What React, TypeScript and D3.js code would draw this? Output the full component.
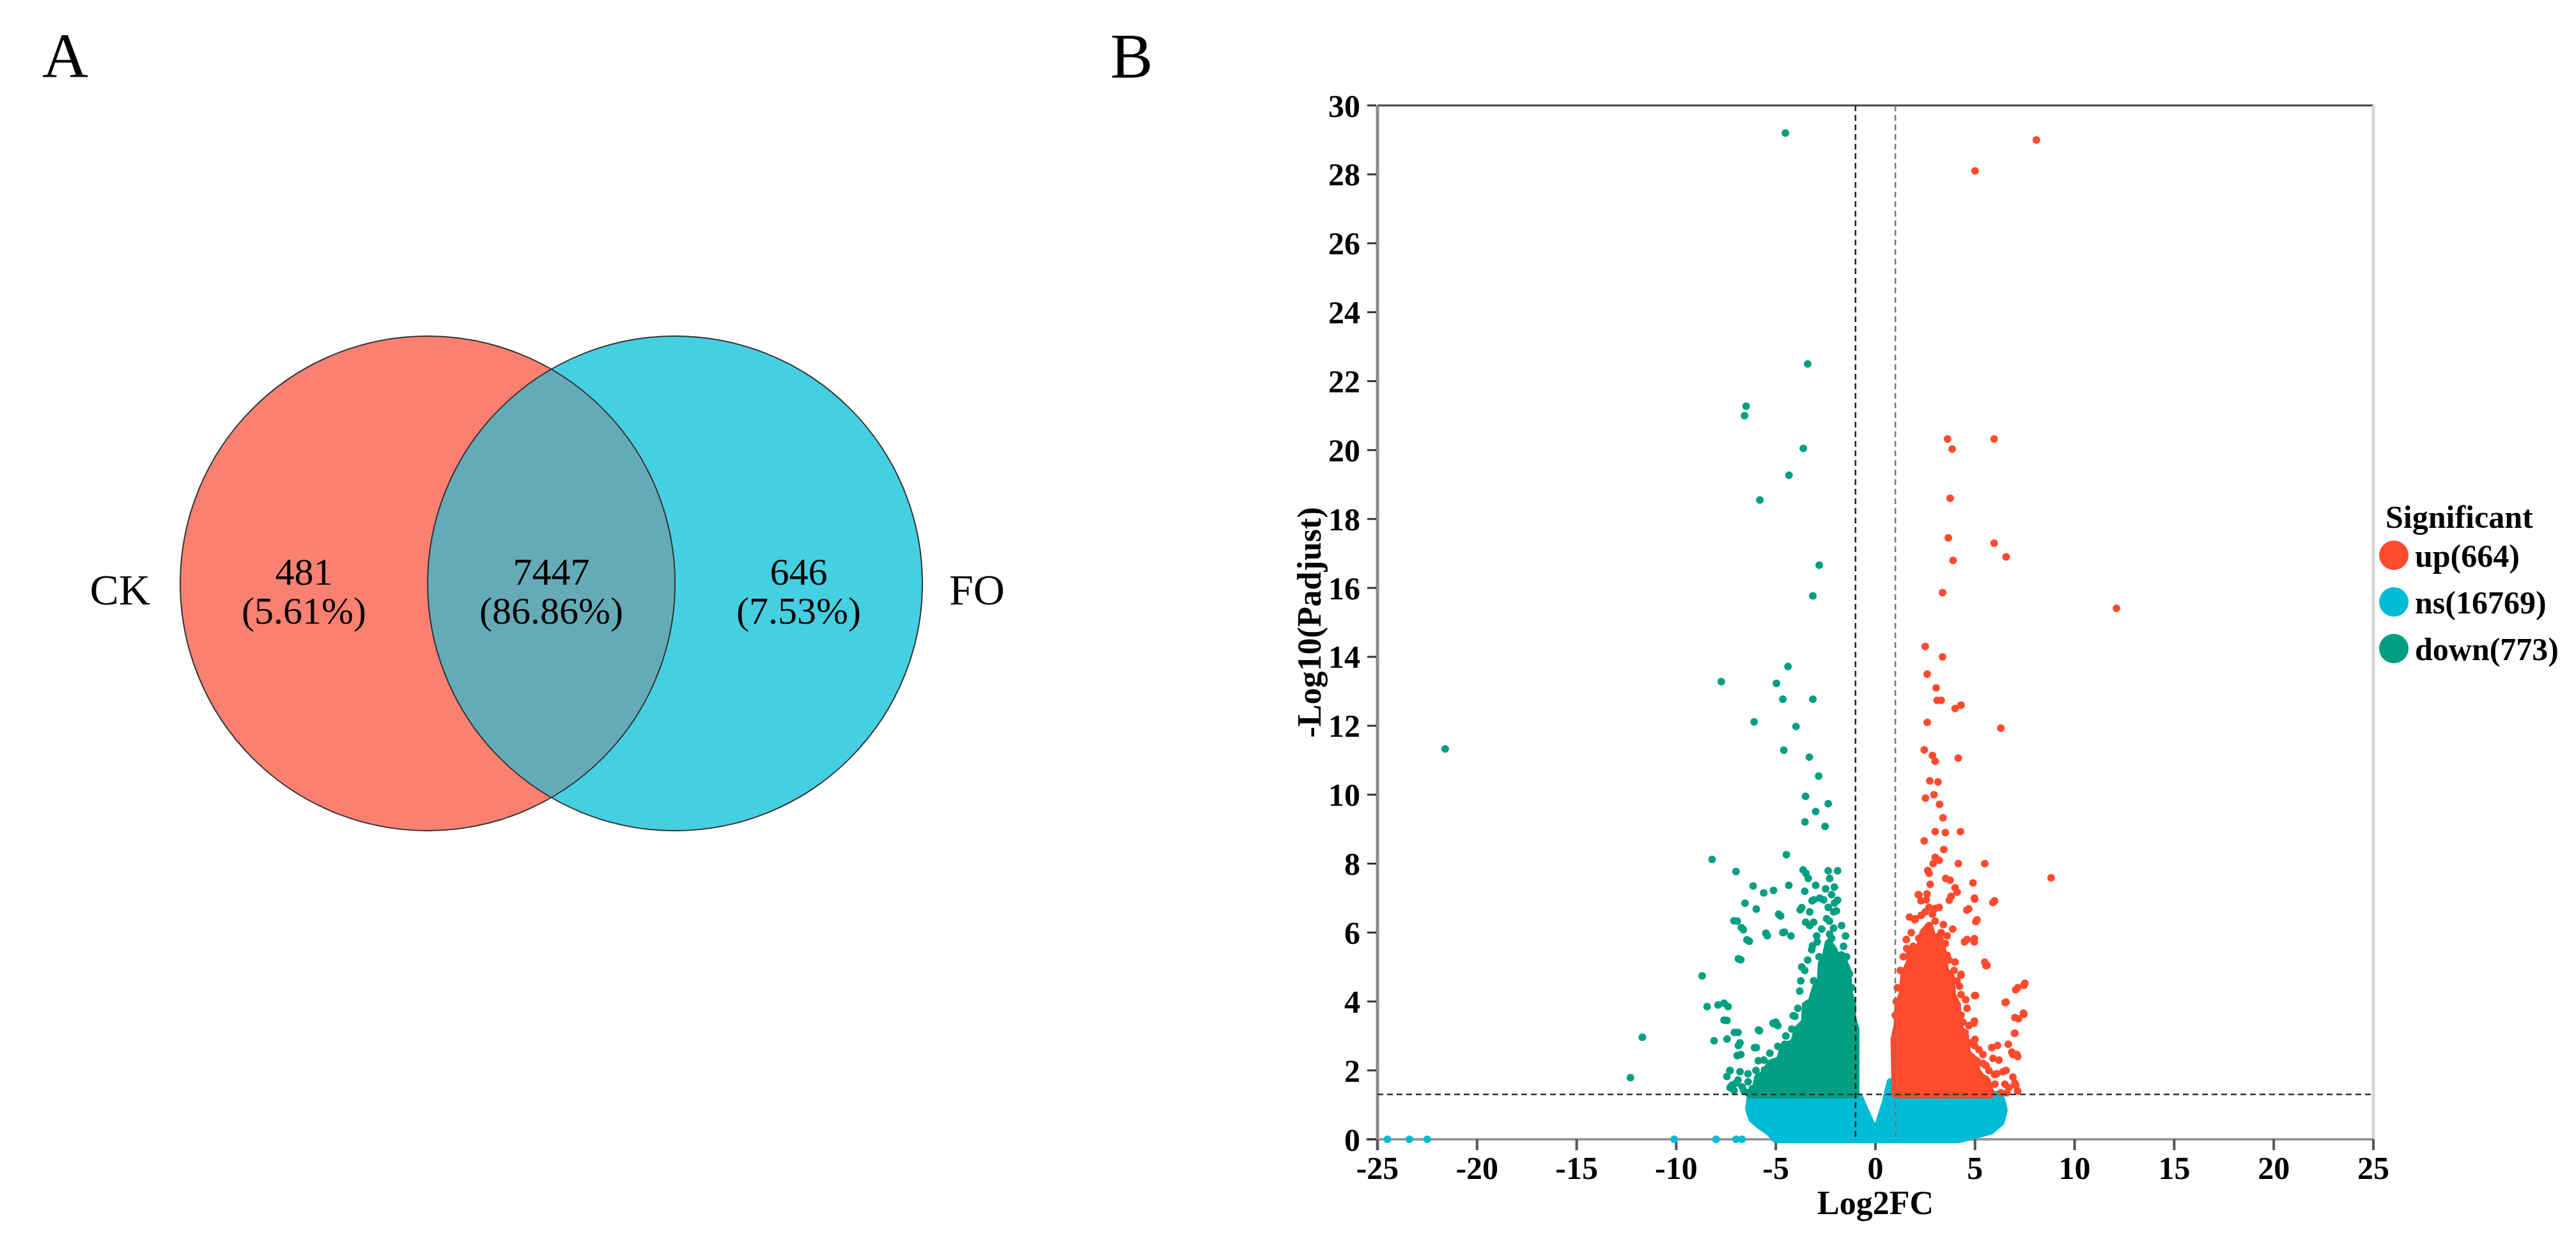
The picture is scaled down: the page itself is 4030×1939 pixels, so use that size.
import React from "react";
import * as d3 from "d3";

// ---- panel A: venn ----
const vennSets = ["CK", "FO"];
const vennCounts = ["481", "7447", "646"];
const vennPercents = ["(5.61%)", "(86.86%)", "(7.53%)"];

// ---- panel B: volcano ----
const xTicks = [-25, -20, -15, -10, -5, 0, 5, 10, 15, 20, 25];
const yTicks = [0, 2, 4, 6, 8, 10, 12, 14, 16, 18, 20, 22, 24, 26, 28, 30];
const groupNames = ["up", "ns", "down"];
const groupCounts = [664, 16769, 773];
const fcCut = [-1, 1];
const padjCut = 1.301;

const nsCore = [
  [-6.25, 1.3], [-6.35, 0.9], [-6.2, 0.6], [-5.8, 0.4], [-5.3, 0.2], [-5.0, 0.0],
  [4.2, 0.0], [5.0, 0.12], [5.8, 0.25], [6.3, 0.5], [6.45, 0.85], [6.3, 1.2], [6.1, 1.3],
  [1.0, 1.3], [0.9, 1.6], [0.75, 1.65], [0.5, 1.05], [0.0, 0.15], [-0.45, 0.75], [-0.8, 1.2], [-1.0, 1.3],
];
const downCore = [
  [-1.0, 1.3], [-1.0, 3.2], [-1.15, 3.5], [-1.2, 4.0], [-1.35, 4.3], [-1.4, 4.9], [-1.55, 5.1],
  [-1.7, 5.35], [-1.9, 5.1], [-2.1, 5.5], [-2.35, 5.7], [-2.5, 5.3], [-2.7, 5.1], [-2.75, 4.6],
  [-3.0, 4.4], [-3.2, 4.0], [-3.5, 3.9], [-3.55, 3.4], [-3.9, 3.2], [-4.1, 2.8], [-4.6, 2.7],
  [-4.8, 2.3], [-5.3, 2.2], [-5.5, 1.9], [-5.9, 1.8], [-6.0, 1.5], [-6.3, 1.3],
];
const upCore = [
  [1.0, 1.3], [0.95, 2.9], [1.1, 3.3], [1.15, 3.9], [1.35, 4.2], [1.45, 4.8], [1.7, 5.1], [1.9, 5.6],
  [2.2, 5.5], [2.4, 6.0], [2.7, 6.2], [2.9, 5.8], [3.2, 5.9], [3.4, 5.4], [3.5, 4.9], [3.8, 4.7],
  [3.85, 4.2], [4.1, 3.9], [4.15, 3.3], [4.5, 3.0], [4.6, 2.5], [5.0, 2.3], [5.1, 1.9], [5.6, 1.7], [5.8, 1.3],
];

// single visible points
const nsPoints = [
  [-24.5, 0], [-23.4, 0], [-22.5, 0], [-10.1, 0], [-8.0, 0], [-7.0, 0], [-6.7, 0],
  [6.37, 0.82], [-6.29, 0.77], [-5.98, 0.62], [0.76, 1.67], [0.85, 1.5],
];
const downPoints = [
  [-4.52, 29.2], [-3.4, 22.5], [-6.49, 21.27], [-6.57, 21.0], [-3.62, 20.05], [-4.34, 19.27],
  [-5.8, 18.55], [-2.82, 16.66], [-3.14, 15.77], [-4.39, 13.72], [-7.74, 13.28], [-4.97, 13.23],
  [-4.65, 12.77], [-3.14, 12.77], [-6.09, 12.11], [-3.99, 11.98], [-21.6, 11.33], [-4.6, 11.29],
  [-3.32, 11.09], [-2.85, 10.54], [-3.51, 9.95], [-2.37, 9.74], [-3.0, 9.51], [-3.54, 9.21],
  [-2.53, 9.08], [-4.47, 8.26], [-8.2, 8.12], [-7.0, 7.77],
  [-3.63, 7.82], [-3.49, 7.72], [-3.37, 7.57], [-2.37, 7.79], [-1.9, 7.79], [-2.3, 7.57],
  [-6.14, 7.35], [-5.61, 7.15], [-5.12, 7.22], [-4.35, 7.37], [-3.0, 7.37], [-2.5, 7.27], [-2.06, 7.32],
  [-3.55, 7.2], [-3.1, 6.95], [-2.6, 6.95], [-2.06, 6.85], [-6.55, 6.85], [-5.98, 6.68], [-4.76, 6.48],
  [-3.78, 6.66], [-2.37, 6.73], [-2.1, 6.6], [-1.96, 6.63], [-1.9, 6.94], [-6.94, 6.33], [-6.63, 6.08],
  [-3.5, 6.3], [-3.1, 6.3], [-3.3, 6.2], [-2.31, 6.33], [-2.1, 6.13], [-2.2, 5.83], [-5.43, 5.91],
  [-4.65, 6.0], [-4.24, 5.9], [-6.33, 5.75], [-3.16, 5.62], [-2.92, 5.73], [-6.76, 5.21], [-8.7, 4.74],
  [-8.45, 3.85], [-7.9, 3.9], [-7.6, 3.95], [-7.4, 3.85], [-7.6, 3.46], [-7.45, 3.45], [-11.7, 2.96],
  [-8.1, 2.86], [-7.45, 2.91], [-6.9, 3.1], [-6.8, 2.8], [-6.76, 2.46], [-7.31, 1.99], [-7.2, 1.57],
  [-6.9, 1.72], [-12.3, 1.79], [-5.82, 3.15], [-5.1, 3.35], [-5.0, 3.4], [-4.04, 3.57], [-4.13, 3.59],
  [-7.08, 3.1], [-5.87, 3.17], [-6.07, 2.66], [-6.94, 2.43], [-7.3, 2.0], [-7.46, 1.82], [-7.3, 1.5],
  [-7.0, 1.63], [-5.88, 2.28], [-5.57, 2.01], [-5.27, 1.77], [-5.06, 2.16], [-4.76, 1.96], [-4.45, 2.26],
  [-4.14, 2.56], [-4.55, 2.76], [-4.0, 1.87], [-5.73, 1.52], [-6.18, 1.47], [-6.39, 1.67], [-6.69, 1.52],
  [-7.1, 1.42], [-6.8, 1.96], [-5.98, 2.66], [-1.9, 5.34], [-1.69, 5.14], [-1.8, 4.84], [-2.04, 5.04],
  [-2.5, 5.14], [-3.8, 4.3], [-3.75, 4.6], [-3.7, 5.0], [-3.1, 4.6], [-2.83, 5.3], [-4.86, 6.53],
  [-3.7, 6.72], [-3.18, 6.92], [-7.1, 6.34], [-6.73, 6.14], [-6.45, 5.79], [-5.5, 5.98], [-4.57, 6.01],
  [-6.88, 5.24], [-6.88, 2.72], [-5.14, 3.37], [-4.9, 3.3],
  [-3.55, 4.9], [-3.4, 5.2], [-3.2, 5.5], [-2.95, 5.9], [-2.7, 6.1], [-2.45, 6.4], [-2.3, 5.95],
  [-1.6, 5.6], [-1.45, 5.3], [-1.3, 4.8], [-1.2, 4.4], [-1.15, 3.9], [-3.9, 3.8], [-4.2, 3.2],
  [-4.5, 3.0], [-4.9, 2.7], [-5.3, 2.5], [-5.6, 2.3], [-6.0, 2.0], [-6.4, 1.9], [-6.6, 1.4],
  [-6.4, 1.35], [-3.3, 6.6], [-2.8, 7.0], [-2.2, 7.1], [-1.7, 6.2], [-1.5, 5.9],
];
const upPoints = [
  [8.08, 29.0], [5.0, 28.1], [3.62, 20.32], [5.96, 20.32], [3.85, 20.03], [3.75, 18.6], [3.66, 17.45],
  [5.96, 17.3], [3.9, 16.8], [6.56, 16.9], [3.37, 15.86], [12.1, 15.41], [2.5, 14.3], [3.37, 14.0],
  [2.6, 13.5], [3.05, 13.1], [3.1, 12.74], [3.3, 12.74], [4.0, 12.5], [4.3, 12.6], [2.6, 12.1],
  [6.3, 11.93], [4.16, 11.06], [2.45, 11.3], [2.86, 11.14], [3.0, 10.97], [2.73, 10.4], [3.14, 10.37],
  [2.94, 10.0], [2.51, 9.9], [3.22, 9.72], [3.39, 9.33], [3.0, 8.93], [3.51, 8.9], [4.27, 8.93],
  [2.45, 8.66], [3.43, 8.41], [3.0, 8.18], [2.9, 8.0], [3.2, 8.1], [4.16, 8.0], [5.49, 8.0], [8.82, 7.59],
  [2.63, 7.8], [2.7, 7.72], [3.53, 7.57], [3.75, 7.52], [4.9, 7.44], [4.0, 7.3], [4.1, 7.17], [2.15, 7.1],
  [2.55, 6.95], [2.75, 7.4], [4.98, 6.97], [5.9, 6.87], [3.71, 6.94], [4.59, 6.65], [1.71, 6.45],
  [1.98, 6.37], [5.04, 6.32], [3.88, 6.1], [4.47, 5.73], [4.96, 5.73], [5.49, 5.14], [5.55, 5.04],
  [4.29, 4.76], [7.45, 4.47], [7.04, 4.34], [4.98, 4.17], [6.51, 3.97], [7.45, 3.63], [7.18, 3.5],
  [4.94, 3.37], [6.98, 3.08], [4.67, 2.76], [6.67, 2.76], [6.9, 2.46], [7.1, 2.46], [6.4, 1.96],
  [6.9, 1.81], [7.05, 1.56], [2.18, 7.09], [2.29, 6.92], [2.59, 7.12], [2.69, 6.73], [2.86, 6.53],
  [3.0, 6.33], [3.2, 6.73], [3.41, 6.23], [2.18, 5.83], [2.39, 5.54], [2.8, 5.68], [3.1, 5.58],
  [3.51, 5.68], [3.6, 5.34], [1.67, 5.34], [1.57, 5.54], [1.78, 5.04], [1.88, 4.74], [1.67, 4.25],
  [4.0, 5.14], [4.22, 4.44], [4.53, 4.05], [3.8, 7.05], [4.97, 7.0], [5.98, 6.92], [4.68, 6.69],
  [5.1, 6.37], [4.97, 5.82], [4.6, 5.8], [5.6, 5.05], [4.3, 4.79], [7.5, 4.53], [7.14, 4.4], [5.03, 4.17],
  [6.56, 3.98], [7.43, 3.66], [7.0, 3.53], [4.97, 3.43], [7.0, 3.08], [4.97, 2.72], [5.84, 2.66],
  [6.13, 2.72], [6.85, 2.53], [7.14, 2.4], [5.4, 2.46], [5.1, 2.27], [5.55, 2.14], [6.56, 2.0],
  [5.98, 1.88], [7.0, 1.63], [6.7, 1.5], [7.14, 1.4], [4.4, 1.37], [5.26, 1.63], [4.68, 1.95],
  [5.7, 1.45], [6.0, 1.6], [6.3, 1.35], [5.5, 1.75], [6.2, 2.3], [5.9, 2.35], [4.9, 1.5], [5.2, 1.9],
  [4.8, 2.3], [5.0, 2.9], [4.5, 3.1], [4.3, 3.6], [4.6, 3.8],
  [1.1, 4.4], [1.25, 4.9], [1.4, 5.3], [1.55, 5.8], [1.8, 6.0], [2.0, 6.4], [2.3, 6.5], [2.5, 6.6],
  [3.0, 6.7], [3.3, 6.0], [3.6, 5.9], [3.7, 5.2], [3.95, 4.9], [4.1, 4.6], [4.3, 4.2], [4.4, 3.4],
  [4.7, 3.3], [4.8, 2.8], [5.2, 2.6], [5.4, 2.2], [5.7, 2.0], [6.1, 1.9], [6.5, 1.6], [6.6, 1.35],
  [1.0, 3.6], [1.05, 4.0],
];

const colors = {
  up: "#FF4A2E",
  ns: "#00BBD5",
  down: "#009F82",
  ck: "#FA8072",
  fo: "#45D0E2",
  both: "#64ABB7",
};
const serif = "'Liberation Serif', 'Times New Roman', serif";

export default function App() {
  const W = 4030;
  const H = 1939;

  // volcano frame
  const left = 2155, right = 3713, top = 165, bottom = 1783;
  const x = d3.scaleLinear().domain([-25, 25]).range([left, right]);
  const y = d3.scaleLinear().domain([0, 30]).range([bottom, top]);
  const blob = d3.line<number[]>()
    .x(d => x(d[0]))
    .y(d => y(d[1]))
    .curve(d3.curveLinearClosed);
  const groupColor = [colors.up, colors.ns, colors.down];

  // venn geometry
  const r = 387;
  const cy = 913;
  const c1 = 669;
  const c2 = 1056;
  const half = (c2 - c1) / 2;
  const h = Math.sqrt(r * r - half * half);
  const mx = c1 + half;
  const lens = `M${mx},${cy - h} A${r},${r} 0 0 1 ${mx},${cy + h} A${r},${r} 0 0 1 ${mx},${cy - h} Z`;
  const labelX = [(c1 - r + c2 - r) / 2, mx, (c1 + r + c2 + r) / 2];

  const dot = (pts: number[][], fill: string) =>
    pts.map((d, i) => (
      <circle key={i} cx={x(d[0])} cy={y(d[1])} r={6} fill={fill} />
    ));

  return (
    <svg width={W} height={H} style={{ position: "absolute", left: 0, top: 0, background: "#fff" }}
      fontFamily={serif}>
      <rect width={W} height={H} fill="#fff" />

      {/* ---------- A ---------- */}
      <text x={66} y={121} fontSize={100}>A</text>
      <circle cx={c1} cy={cy} r={r} fill={colors.ck} />
      <circle cx={c2} cy={cy} r={r} fill={colors.fo} />
      <path d={lens} fill={colors.both} />
      <circle cx={c1} cy={cy} r={r} fill="none" stroke="#333" strokeWidth={2} />
      <circle cx={c2} cy={cy} r={r} fill="none" stroke="#333" strokeWidth={2} />
      {vennCounts.map((c, i) => (
        <g key={c} textAnchor="middle" fontSize={60}>
          <text x={labelX[i]} y={915}>{c}</text>
          <text x={labelX[i]} y={976}>{vennPercents[i]}</text>
        </g>
      ))}
      <text x={235} y={946} fontSize={68} textAnchor="end">{vennSets[0]}</text>
      <text x={1485} y={946} fontSize={68}>{vennSets[1]}</text>

      {/* ---------- B ---------- */}
      <text x={1737} y={121} fontSize={100}>B</text>

      {/* frame */}
      <line x1={left} x2={right} y1={top} y2={top} stroke="#444" strokeWidth={3} />
      <line x1={right} x2={right} y1={top} y2={bottom} stroke="#d6d6d6" strokeWidth={5} />
      <line x1={left} x2={left} y1={top} y2={1800} stroke="#8c8c8c" strokeWidth={5} />
      <line x1={2137} x2={right} y1={bottom} y2={bottom} stroke="#999" strokeWidth={4} />

      {/* y axis */}
      {yTicks.map(t => (
        <g key={t}>
          <line x1={2139} x2={left - 2} y1={y(t)} y2={y(t)} stroke="#333" strokeWidth={3} />
          <text x={2128} y={y(t)} dy="0.35em" textAnchor="end" fontSize={50} fontWeight="bold">{t}</text>
        </g>
      ))}
      {/* x axis */}
      {xTicks.map(t => (
        <g key={t}>
          <line x1={x(t)} x2={x(t)} y1={bottom} y2={1800} stroke="#555" strokeWidth={4} />
          <text x={x(t)} y={1845} textAnchor="middle" fontSize={50} fontWeight="bold">{t}</text>
        </g>
      ))}
      <text x={x(0)} y={1900} textAnchor="middle" fontSize={52} fontWeight="bold">Log2FC</text>
      <text transform={`translate(2066,${(top + bottom) / 2}) rotate(-90)`} textAnchor="middle"
        fontSize={52} fontWeight="bold">-Log10(Padjust)</text>

      {/* points */}
      <path d={blob(nsCore) ?? ""} fill={colors.ns} stroke={colors.ns} strokeWidth={12} strokeLinejoin="round" />
      {dot(nsPoints, colors.ns)}
      <path d={blob(downCore) ?? ""} fill={colors.down} stroke={colors.down} strokeWidth={12} strokeLinejoin="round" />
      {dot(downPoints, colors.down)}
      <path d={blob(upCore) ?? ""} fill={colors.up} stroke={colors.up} strokeWidth={12} strokeLinejoin="round" />
      {dot(upPoints, colors.up)}

      {/* cut-off lines */}
      <line x1={x(fcCut[0])} x2={x(fcCut[0])} y1={top} y2={bottom} stroke="#222" strokeWidth={2.5} strokeDasharray="9,6" />
      <line x1={x(fcCut[1])} x2={x(fcCut[1])} y1={top} y2={bottom} stroke="#777" strokeWidth={2.5} strokeDasharray="9,6" />
      <line x1={left} x2={right} y1={y(padjCut)} y2={y(padjCut)} stroke="#333" strokeWidth={2.5} strokeDasharray="9,6" />

      {/* legend */}
      <text x={3732} y={826} fontSize={50} fontWeight="bold">Significant</text>
      {groupNames.map((g, i) => (
        <g key={g} transform={`translate(0,${869 + i * 73})`}>
          <circle cx={3745} cy={0} r={23} fill={groupColor[i]} />
          <text x={3778} y={0} dy="0.35em" fontSize={50} fontWeight="bold">{`${g}(${groupCounts[i]})`}</text>
        </g>
      ))}
    </svg>
  );
}
